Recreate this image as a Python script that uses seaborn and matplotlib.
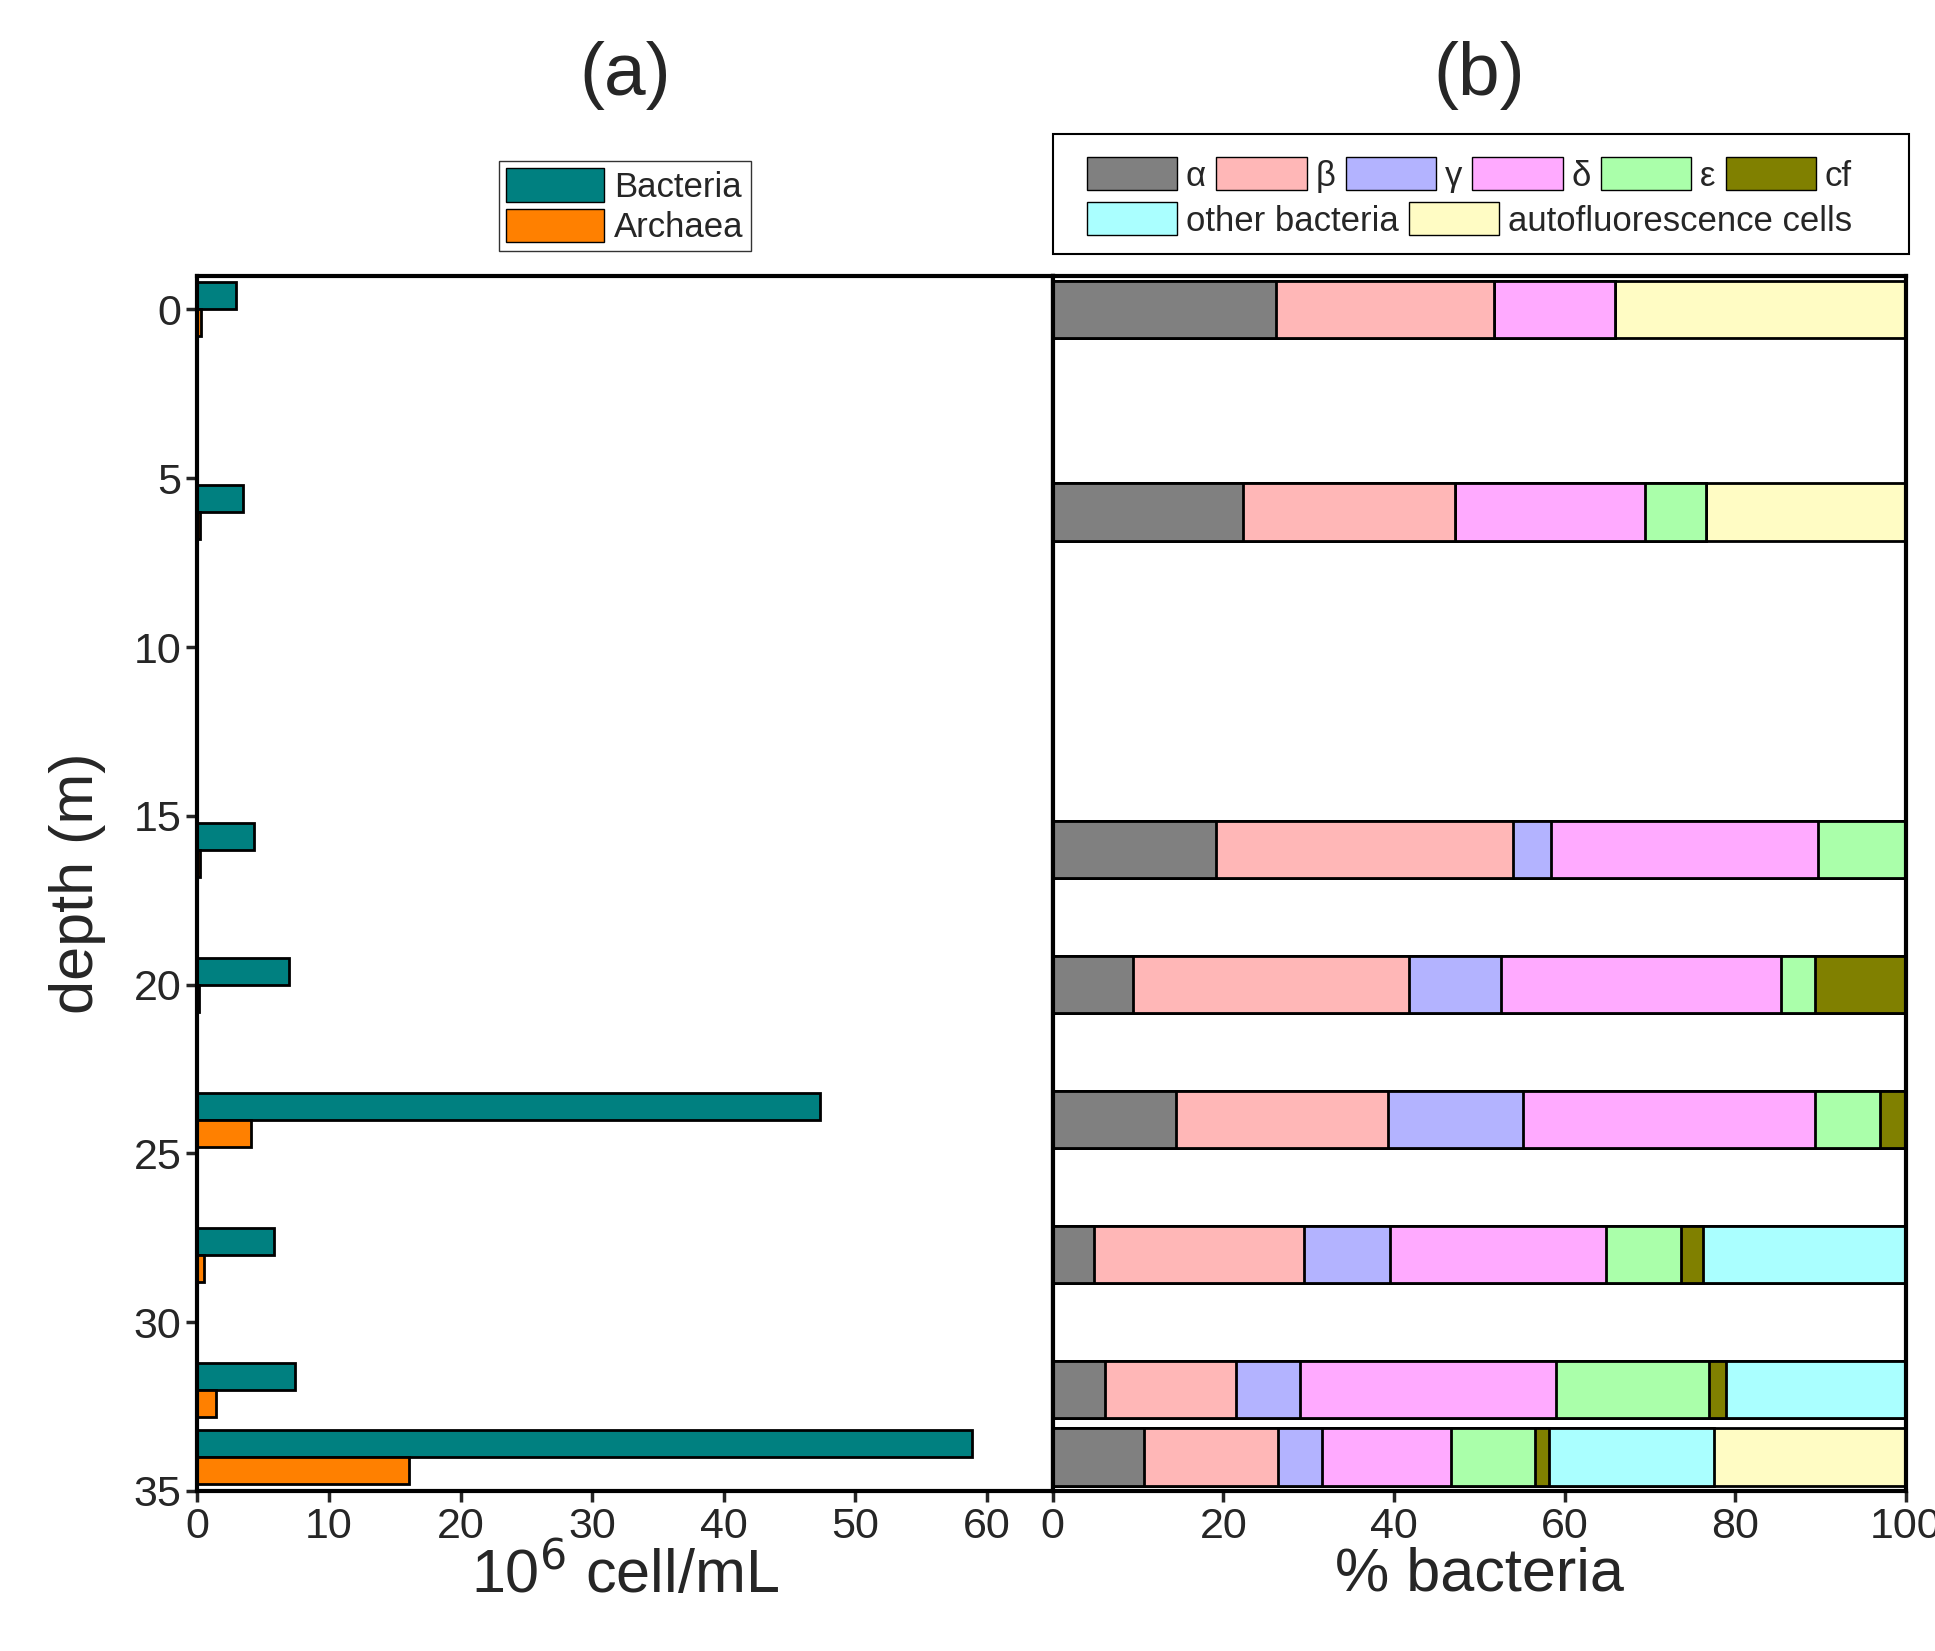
import matplotlib
matplotlib.use("Agg")
import matplotlib.pyplot as plt
import seaborn as sns
import pandas as pd
import numpy as np
from matplotlib.patches import Patch, Rectangle

depths = [0, 6, 16, 20, 24, 28, 32, 34]
bacteria = [2.9, 3.5, 4.3, 7.0, 47.3, 5.8, 7.4, 58.9]
archaea = [0.3, 0.2, 0.2, 0.1, 4.1, 0.5, 1.4, 16.1]

groups = ["α", "β", "γ", "δ", "ε", "cf", "other bacteria", "autofluorescence cells"]
alpha_p = [26.2, 22.3, 19.2, 9.4, 14.5, 4.8, 6.1, 10.7]
beta_p = [25.5, 24.8, 34.7, 32.4, 24.8, 24.7, 15.4, 15.7]
gamma_p = [0, 0, 4.5, 10.8, 15.8, 10.0, 7.5, 5.2]
delta_p = [14.2, 22.3, 31.3, 32.8, 34.2, 25.4, 30.0, 15.1]
eps_p = [0, 7.2, 10.3, 3.9, 7.7, 8.7, 17.9, 9.8]
cf_p = [0, 0, 0, 10.7, 3.0, 2.6, 2.0, 1.7]
other_p = [0, 0, 0, 0, 0, 23.8, 21.1, 19.3]
auto_p = [34.1, 23.4, 0, 0, 0, 0, 0, 22.5]
colors = ["#808080", "#FFB7B7", "#B3B3FF", "#FFAAFF", "#AAFFAA", "#808000", "#AAFFFF", "#FFFCC4"]

sns.set_style("white")
plt.rcParams["font.family"] = ["Liberation Sans", "DejaVu Sans"]

fig = plt.figure(figsize=(19.35, 16.51), dpi=100)
axL = fig.add_axes([0.102, 0.097, 0.442, 0.736])
axR = fig.add_axes([0.544, 0.097, 0.441, 0.736])

df = pd.DataFrame({"depth": depths * 2,
                   "val": bacteria + archaea,
                   "kind": ["Bacteria"] * 8 + ["Archaea"] * 8})
sns.barplot(data=df, x="val", y="depth", hue="kind", orient="h", native_scale=True,
            palette=["#008080", "#FF8000"], saturation=1, width=0.8, edgecolor="black",
            linewidth=2, ax=axL, legend=False, errorbar=None)
axL.set_ylim(35, -1)
axL.set_xlim(0, 65)
axL.set_xticks(range(0, 70, 10))
axL.set_yticks(range(0, 40, 5))
axL.set_xlabel("10$^6$ cell/mL", fontsize=44, labelpad=0)
axL.set_ylabel("depth (m)", fontsize=44, labelpad=20)
axL.set_title("(a)", fontsize=54, pad=130)
axL.legend(handles=[Patch(facecolor="#008080", edgecolor="black", label="Bacteria"),
                    Patch(facecolor="#FF8000", edgecolor="black", label="Archaea")],
           loc="lower center", bbox_to_anchor=(0.5, 1.02), fontsize=25, fancybox=False,
           edgecolor="black", handlelength=2.8, handleheight=1.1, borderpad=0.2,
           labelspacing=0.15, handletextpad=0.3, borderaxespad=0)

series = [alpha_p, beta_p, gamma_p, delta_p, eps_p, cf_p, other_p, auto_p]
cum = np.cumsum(np.array(series), axis=0)
for i in range(len(series) - 1, -1, -1):
    d = pd.DataFrame({"depth": depths, "v": cum[i]})
    sns.barplot(data=d, x="v", y="depth", orient="h", native_scale=True, color=colors[i],
                saturation=1, width=0.85, edgecolor="black", linewidth=2, ax=axR,
                errorbar=None)
axR.set_ylim(35, -1)
axR.set_xlim(0, 100)
axR.set_xticks(range(0, 120, 20))
axR.set_yticks([])
axR.set_ylabel("")
axR.set_xlabel("% bacteria", fontsize=44, labelpad=0)
axR.set_title("(b)", fontsize=54, pad=130)
h = [Patch(facecolor=c, edgecolor="black", label=g) for c, g in zip(colors, groups)]
common = dict(fontsize=25, frameon=False, handlelength=2.6, handleheight=1.1,
              columnspacing=0.3, handletextpad=0.25, borderpad=0, borderaxespad=0)
leg1 = axR.legend(handles=h[:6], ncol=6, loc="center left",
                  bbox_to_anchor=(0.04, 1.083), **common)
axR.add_artist(leg1)
axR.legend(handles=h[6:], ncol=2, loc="center left", bbox_to_anchor=(0.04, 1.046), **common)
axR.add_patch(Rectangle((0.0, 1.018), 1.003, 0.099, transform=axR.transAxes, fill=False,
                        edgecolor="black", linewidth=1.5, clip_on=False))

for ax in (axL, axR):
    for s in ax.spines.values():
        s.set_linewidth(3)
        s.set_color("black")
    ax.tick_params(axis="both", labelsize=31, width=2.5, length=8, direction="out",
                   bottom=True, left=(ax is axL))

fig.savefig("out.png", dpi=100)
